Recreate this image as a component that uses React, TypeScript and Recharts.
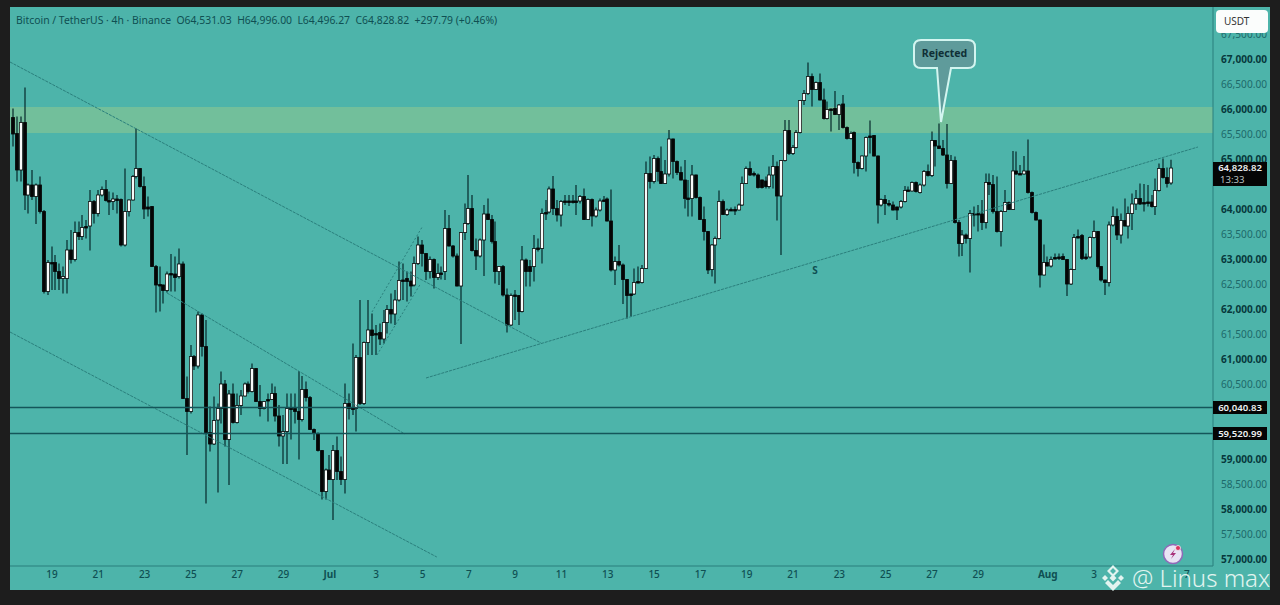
import { ComposedChart, Bar, XAxis, YAxis, ReferenceArea, ReferenceLine } from 'recharts';

const opens = [
  65840,65520,64790,65740,64290,64490,64260,64490,63960,62360,
  62930,62940,62760,62620,62620,63190,63000,63540,63460,63640,
  63670,64160,63920,64290,64400,64180,64160,64200,64200,63290,
  63960,64190,64660,64820,64460,64050,64060,62860,62490,62490,
  62380,62710,62710,62660,62910,60220,59960,61060,60870,61890,
  61260,59540,59310,59790,60020,60510,59400,60310,59740,60080,
  60270,60510,60360,60820,60160,60020,60190,60200,60320,59870,
  59470,59560,60020,60020,59960,59800,60400,60240,59600,59520,
  59180,58360,58790,58600,59180,58760,58600,60120,60020,60020,
  61040,60120,61340,61590,61500,61540,61410,61740,62000,61910,
  62190,62590,62620,62570,62490,62920,63290,63120,62760,63000,
  62640,62720,62760,63620,63270,63070,62470,63540,63720,64020,
  63180,63070,63390,63910,63800,63360,62760,62860,62290,61690,
  62280,62280,61960,62990,62860,62860,63220,63220,63930,63950,
  64410,64020,63890,64160,64160,64170,64160,64170,64260,63800,
  64200,63870,63990,64170,64210,63770,62790,62960,62890,62600,
  62280,62310,62540,62540,62820,64720,64560,65020,64760,64520,
  64710,65410,64960,64740,64590,64220,64220,64690,64240,63800,
  63560,62800,63290,63420,64160,63900,63990,64000,63990,64090,
  64520,64820,64720,64690,64590,64570,64460,64690,64860,64270,
  64980,65580,65120,65240,65540,66180,66320,66660,66400,66540,
  66190,65820,66000,66020,65900,66110,65640,65420,65540,64940,
  64820,65070,65440,65480,65070,64090,64200,64120,64090,64050,
  64050,64160,64380,64370,64540,64340,64490,64760,64680,65380,
  65270,65220,65090,64520,64980,63740,63320,63490,63420,63900,
  63920,63910,63740,64540,64500,63960,63560,63960,64140,64000,
  64770,64720,64710,64770,64340,63940,63790,62690,62940,62870,
  63020,63040,63060,63000,62510,62800,63450,63480,63020,63050,
  63440,63560,62860,62590,62540,63690,63860,63490,63780,63670,
  63920,64110,64220,64130,64150,64150,64060,64380,64820,64640,
  64531.03,
];

const highs = [
  66020,65860,65860,66440,64520,64790,64520,64660,63990,62990,
  63260,63090,62920,62860,63390,63590,63760,63760,63890,63790,
  64390,64190,64390,64460,64590,64360,64340,64290,64220,64820,
  64200,64690,65620,64830,64660,64260,64070,62890,62860,62500,
  62760,63110,63060,63220,62960,60660,61290,61090,61960,61920,
  61790,60060,60260,60120,60760,60590,60390,60520,60320,60390,
  60540,60560,60920,60830,60490,60170,60320,60520,60460,60090,
  59890,60320,60320,60320,60770,60670,60560,60270,59620,59540,
  59190,58820,59090,59290,59460,59060,60520,60320,61320,61090,
  62190,61360,62190,61920,61690,61720,61990,62090,62320,62390,
  62960,62920,62760,62760,63060,63460,63390,63130,63060,63020,
  62920,62860,63990,63890,63290,63120,63550,64120,64690,64290,
  63420,63420,64090,64220,63890,63760,62870,62890,62420,62320,
  62390,62290,63270,63020,62990,63490,63420,64020,64190,64460,
  64670,64190,64190,64290,64290,64290,64490,64290,64420,64220,
  64220,64040,64220,64270,64240,64400,63060,63290,62920,62610,
  62320,62820,62860,62890,64960,65060,65090,65060,65260,64990,
  65590,65420,64980,64860,64990,64590,64890,64700,64260,64060,
  63570,63310,63460,64380,64200,64020,64040,64060,64120,64660,
  64860,64960,64760,64720,64600,64660,64860,65090,64960,64990,
  65790,65790,65290,65590,66190,66390,66940,66720,66560,66720,
  66420,66160,66020,66370,66110,66290,65660,65560,65560,64960,
  65080,65460,65780,65490,65080,64220,64290,64190,64160,64060,
  64190,64470,64460,64560,64560,64520,64790,64900,65560,65390,
  65720,65390,65710,65090,65060,63790,63590,63520,63990,64060,
  64090,64190,64720,64720,64690,64660,63990,64390,64160,65170,
  65160,64890,65070,65400,64360,63960,63800,63300,63060,63060,
  63120,63120,63120,63010,62820,63510,63600,63510,63120,63460,
  63780,63570,62870,62600,63760,64060,64020,63920,64220,64060,
  64320,64390,64520,64510,64490,64290,64620,64920,65020,64840,
  64996,
];

const lows = [
  65260,64560,64560,63990,63920,64190,63710,63920,62320,62290,
  62390,62390,62390,62320,62320,62920,62960,63390,63390,63420,
  63180,63720,63860,64260,64160,63890,63990,63920,63260,63260,
  63860,64180,64620,64440,63810,63860,62850,61940,61960,62120,
  62340,62360,62360,62620,60210,59090,59920,60790,60820,61060,
  58120,59160,59290,58340,59720,59260,58490,59720,59720,59890,
  60260,60320,60340,60150,59860,60000,59760,60190,59760,59260,
  58910,58910,59400,59720,59000,59760,60160,59590,59390,59160,
  58200,58200,58590,57790,58590,58490,58320,59800,59890,59560,
  60090,60090,61090,61090,61090,61290,61320,61520,61720,61690,
  62160,62190,62160,62260,62460,62890,62860,62590,62620,62420,
  62590,62600,62590,63260,63040,62460,61310,63390,63690,63160,
  62790,63040,62670,63790,63320,62520,62490,62260,61540,61670,
  61790,61690,61940,62460,62460,62560,63160,62920,63790,63920,
  63890,63760,63660,64090,64070,64120,63890,64120,63790,63790,
  63660,63840,63960,64160,63760,62760,62490,62860,62110,61820,
  61860,62290,62520,62520,62810,64420,64520,64560,64510,64510,
  64660,64620,64690,64580,64020,63860,63860,64220,63790,63380,
  62710,62660,62520,63400,63890,63870,63980,63890,63980,64070,
  64510,64670,64660,64420,64420,64420,64420,64420,63780,63090,
  64960,65090,65090,65220,65520,66090,66290,66060,66390,66180,
  65800,65800,65560,65890,65590,65620,65400,65400,64720,64660,
  64800,64760,65120,65060,63720,64060,63890,64060,63980,63790,
  64020,64140,64370,64360,64340,64320,64460,64660,64650,64860,
  65210,65070,64420,64510,63720,63060,63070,63320,62740,63660,
  63560,63590,63620,64290,63920,63540,63260,63950,63990,63990,
  64690,64690,64700,64320,63920,63780,62440,62680,62860,62840,
  63000,62990,62990,62270,62490,62790,63420,62990,62990,63020,
  63420,62820,62560,62290,62460,63660,63390,63320,63660,63420,
  63590,63990,64090,63960,64060,64040,63890,64360,64620,64440,
  64496.27,
];

const closes = [
  65510,64790,65740,64290,64490,64260,64490,63960,62360,62940,
  62940,62760,62620,62660,63190,63000,63540,63460,63640,63660,
  64160,63920,64290,64400,64180,64170,64210,64210,63290,63960,
  64190,64660,64820,64460,64010,64010,62860,62490,62500,62380,
  62710,62720,62640,62910,60220,59960,61060,60870,61890,61260,
  59540,59310,59780,60020,60510,59400,60310,59740,60080,60270,
  60510,60360,60820,60160,60020,60160,60200,60320,59870,59470,
  59560,60020,60030,59960,59800,60400,60240,59600,59520,59180,
  58360,58790,58600,59180,58760,58600,60120,60020,60030,61040,
  60120,61340,61590,61480,61520,61410,61740,62000,61910,62190,
  62580,62580,62560,62470,62920,63290,63120,62760,63000,62640,
  62720,62730,63620,63270,63070,62470,63540,63720,64020,63180,
  63070,63390,63910,63800,63360,62760,62860,62290,61690,62280,
  62290,61960,62990,62760,62760,63220,63230,63920,63940,64410,
  64020,63890,64160,64170,64170,64160,64170,64260,63800,64200,
  63870,63990,64170,64190,63770,62790,62960,62890,62600,62280,
  62310,62540,62560,62820,64720,64560,65020,64760,64520,64710,
  65410,64960,64740,64590,64220,64230,64690,64240,63800,63560,
  62790,63290,63420,64160,63900,63990,64000,63990,64090,64520,
  64820,64690,64690,64440,64440,64460,64690,64860,64270,64980,
  65580,65120,65240,65540,66180,66320,66660,66400,66540,66190,
  65820,66000,66010,65900,66090,65640,65420,65520,64940,64820,
  65070,65440,65470,65070,64090,64200,64120,64100,63990,63990,
  64160,64380,64390,64540,64360,64490,64760,64680,65380,65270,
  65220,65090,64520,64980,63740,63320,63490,63420,63920,63920,
  63910,63740,64540,64500,63960,63560,63960,64140,64000,64770,
  64710,64710,64770,64340,63940,63790,62690,62940,62870,63000,
  63040,63050,63000,62510,62800,63440,63460,63020,63050,63440,
  63560,62860,62590,62540,63690,63860,63490,63780,63670,63920,
  64110,64220,64110,64140,64140,64060,64380,64820,64640,64520,
  64828.82,
];

// 4h candles, tick every 12 candles (2 days)
const dateTicks = [10, 22, 34, 46, 58, 70, 82, 94, 106, 118, 130, 142, 154, 166, 178, 190, 202, 214, 226, 238, 250, 268, 280, 304];
const dateLabels = ['19', '21', '23', '25', '27', '29', 'Jul', '3', '5', '7', '9', '11', '13', '15', '17', '19', '21', '23', '25', '27', '29', 'Aug', '3', '7'];
// 59,500, 60,000 and 64,500 sit under the price tags in the original
const priceTicks = [57000, 57500, 58000, 58500, 59000, 60500, 61000, 61500, 62000, 62500, 63000, 63500, 64000, 65000, 65500, 66000, 66500, 67000, 67500];

const supply = [65530, 66050];
const levels = [60040.83, 59520.99];

// trendlines as [candle, price] pairs
const trendlines = [
  { from: [-0.88, 66950], to: [136.7, 61330] },
  { from: [39.8, 62330], to: [101.4, 59510] },
  { from: [-0.88, 61550], to: [109.7, 57050] },
  { from: [106.9, 60630], to: [306.9, 65250] },
];
const channelLines = [
  { from: [92.9, 61950], to: [105.9, 63650] },
  { from: [94.2, 61090], to: [105.3, 62490] },
];

const candles = opens.map((open, i) => ({
  i,
  open,
  high: highs[i],
  low: lows[i],
  close: closes[i],
}));

const BG = '#4db4aa';
const INK = '#0f4f52';
const FONT = '"Noto Sans", sans-serif';

function Candle(props: any) {
  const { x, y, width, height, payload } = props;
  const cx = Math.round(x + width / 2);
  const top = Math.min(y, y + height);
  const h = Math.abs(height);
  const py = (p: number) => top + ((payload.high - p) / (payload.high - payload.low)) * h;
  const up = payload.close >= payload.open;
  const bodyTop = py(Math.max(payload.open, payload.close));
  const bodyH = Math.max(1.5, py(Math.min(payload.open, payload.close)) - bodyTop);
  return (
    <g>
      <line x1={cx} x2={cx} y1={top} y2={top + h} stroke="#06282b" strokeWidth={1.2} />
      <rect x={cx - 1.9} y={bodyTop - 0.4} width={3.8} height={bodyH + 0.8} fill="#050505" />
      {up && bodyH > 1.5 && <rect x={cx - 1.2} y={bodyTop + 0.4} width={2.4} height={bodyH - 0.8} fill="#f7faf9" />}
    </g>
  );
}

function PriceTick({ x, y, payload }: any) {
  const major = payload.value % 1000 === 0;
  return (
    <text
      x={x}
      y={y + 3.5}
      fontSize={10}
      textLength={46}
      lengthAdjust="spacingAndGlyphs"
      fontFamily={FONT}
      fontWeight={major ? 700 : 400}
      fill={major ? '#07393c' : '#1d6a6b'}
    >
      {payload.value.toLocaleString('en-US', { minimumFractionDigits: 2 })}
    </text>
  );
}

function DateTick({ x, y, payload }: any) {
  const label = dateLabels[dateTicks.indexOf(payload.value)];
  const month = label === 'Jul' || label === 'Aug';
  return (
    <text
      x={x}
      y={y + 4}
      textAnchor="middle"
      fontSize={10}
      fontFamily={FONT}
      fontWeight={month ? 700 : 500}
      fill={INK}
    >
      {label}
    </text>
  );
}

function PriceTag({ top, height, label, sub }: any) {
  return (
    <div
      style={{
        position: 'absolute',
        left: 1213,
        top,
        width: 54,
        height,
        background: '#050505',
        color: '#eef2f2',
        fontFamily: FONT,
        fontSize: 9.6,
        fontWeight: 600,
        lineHeight: sub ? '12px' : `${height}px`,
        textAlign: 'center',
      }}
    >
      {label}
      {sub && <div style={{ textAlign: 'left', paddingLeft: 7, color: '#b9c2c2', fontWeight: 400 }}>{sub}</div>}
    </div>
  );
}

export default function App() {
  return (
    <div style={{ position: 'fixed', left: 0, top: 0, width: 1280, height: 605, background: '#1d1d1d', overflow: 'hidden' }}>
      <div style={{ position: 'absolute', left: 10, top: 7, width: 1260, height: 583, background: BG }}>
        <ComposedChart width={1260} height={583} data={candles} margin={{ top: 0, right: 0, bottom: 0, left: 0 }}>
          <XAxis
            dataKey="i"
            type="number"
            domain={[-0.88, 310.8]}
            allowDataOverflow
            ticks={dateTicks}
            interval={0}
            tick={<DateTick />}
            tickLine={false}
            height={24}
            stroke="#2b7f7d"
          />
          <YAxis
            orientation="right"
            type="number"
            domain={[56870, 68050]}
            allowDataOverflow
            ticks={priceTicks}
            interval={0}
            tick={<PriceTick />}
            tickLine={false}
            width={57}
            stroke="#2b7f7d"
          />
          <ReferenceArea y1={supply[0]} y2={supply[1]} fill="#72bf9b" fillOpacity={1} stroke="none" />
          {trendlines.map((l, i) => (
            <ReferenceLine
              key={i}
              segment={[{ x: l.from[0], y: l.from[1] }, { x: l.to[0], y: l.to[1] }]}
              stroke="#2a7f7c"
              strokeWidth={1}
              strokeDasharray="3 1"
            />
          ))}
          {channelLines.map((l, i) => (
            <ReferenceLine
              key={i}
              segment={[{ x: l.from[0], y: l.from[1] }, { x: l.to[0], y: l.to[1] }]}
              stroke="#2a7f7c"
              strokeWidth={1}
              strokeDasharray="2 2"
            />
          ))}
          {levels.map((v) => (
            <ReferenceLine key={v} y={v} stroke="#14565a" strokeWidth={1.5} />
          ))}
          <Bar
            dataKey={(d: any) => [d.low, d.high]}
            barSize={3}
            shape={<Candle />}
            isAnimationActive={false}
          />
        </ComposedChart>
      </div>

      <div
        style={{
          position: 'absolute',
          left: 16,
          top: 12,
          fontFamily: FONT,
          fontSize: 10.4,
          lineHeight: '16px',
          color: INK,
          whiteSpace: 'pre',
        }}
      >
        Bitcoin / TetherUS · 4h · Binance  O64,531.03  H64,996.00  L64,496.27  C64,828.82  +297.79 (+0.46%)
      </div>

      <div
        style={{
          position: 'absolute',
          left: 1216,
          top: 10,
          width: 52,
          height: 23,
          borderRadius: 4,
          background: '#fbfdfc',
          color: '#333',
          fontFamily: FONT,
          fontSize: 10,
          lineHeight: '23px',
          paddingLeft: 8,
          boxSizing: 'border-box',
        }}
      >
        USDT
      </div>

      <PriceTag top={162} height={24} label="64,828.82" sub="13:33" />
      <PriceTag top={401} height={13} label="60,040.83" />
      <PriceTag top={427} height={13} label="59,520.99" />

      <svg width={1280} height={605} style={{ position: 'absolute', left: 0, top: 0, pointerEvents: 'none' }}>
        <path
          d="M921 40 H968 Q975 40 975 47 V61 Q975 68 968 68 H951 L941 122 L937 68 H921 Q914 68 914 61 V47 Q914 40 921 40 Z"
          fill="#5f9b9b"
          stroke="#d3f5f0"
          strokeWidth={2}
        />
        <text x={944.5} y={56.5} textAnchor="middle" fontSize={10.5} fontWeight={700} fontFamily={FONT} fill="#0f2f35">
          Rejected
        </text>
        <text x={815} y={274} textAnchor="middle" fontSize={10} fontWeight={700} fontFamily={FONT} fill={INK}>
          S
        </text>

        <circle cx={1173} cy={554} r={9.5} fill="#e9e4f4" stroke="#8f69b8" strokeWidth={1.5} />
        <path d="M1175 549 L1170 555 H1173 L1171 559 L1176 553 H1173 Z" fill="#a8327a" />
        <circle cx={1178} cy={548} r={2.5} fill="#d8345f" stroke="#f5f0f5" strokeWidth={0.8} />

        <g fill="#e2f4f0">
          <path d="M1113 565 L1119 571 L1113 577 L1107 571 Z M1113 568 L1110 571 L1113 574 L1116 571 Z" fillRule="evenodd" />
          <path d="M1113 591 L1105 583 L1108 580 L1113 585 L1118 580 L1121 583 Z" />
          <path d="M1113 574.5 L1116.5 578 L1113 581.5 L1109.5 578 Z" />
          <path d="M1102 578 L1105 575 L1108 578 L1105 581 Z" />
          <path d="M1118 578 L1121 575 L1124 578 L1121 581 Z" />
        </g>
        <text x={1132} y={587} fontSize={24} fontFamily={FONT} fill="#e2f4f0" fontWeight={300}>
          @ Linus max
        </text>
      </svg>
    </div>
  );
}
